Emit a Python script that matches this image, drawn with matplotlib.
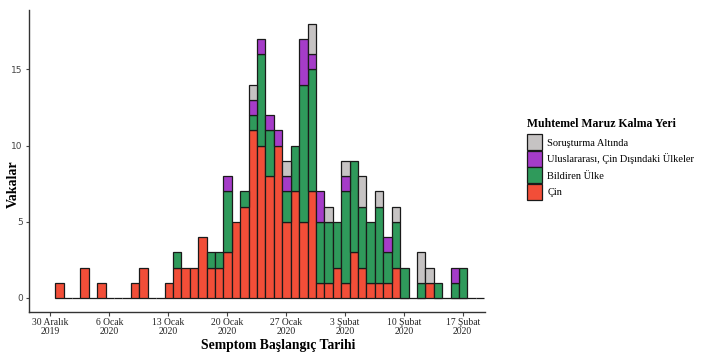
import numpy as np
import matplotlib
matplotlib.use("Agg")
import matplotlib.pyplot as plt
from matplotlib.patches import Patch

# Gün indeksi: 0 = 30 Aralık 2019
days = list(range(1, 52))

cin = [1, 0, 0, 2, 0, 1, 0, 0, 0, 1, 2, 0, 0, 1, 2, 2, 2, 4, 2, 2,
       3, 5, 6, 11, 10, 8, 10, 5, 7, 5, 7, 1, 1, 2, 1, 3, 2, 1, 1, 1,
       2, 0, 0, 0, 1, 0, 0, 0, 0, 0, 0]
bildiren = [0, 0, 0, 0, 0, 0, 0, 0, 0, 0, 0, 0, 0, 0, 1, 0, 0, 0, 1, 1,
            4, 0, 1, 1, 6, 3, 0, 2, 3, 9, 8, 4, 4, 3, 6, 6, 4, 4, 5, 2,
            3, 2, 0, 1, 0, 1, 0, 1, 2, 0, 0]
uluslararasi = [0, 0, 0, 0, 0, 0, 0, 0, 0, 0, 0, 0, 0, 0, 0, 0, 0, 0, 0, 0,
                1, 0, 0, 1, 1, 1, 1, 1, 0, 3, 1, 2, 0, 0, 1, 0, 0, 0, 0, 1,
                0, 0, 0, 0, 0, 0, 0, 1, 0, 0, 0]
sorusturma = [0, 0, 0, 0, 0, 0, 0, 0, 0, 0, 0, 0, 0, 0, 0, 0, 0, 0, 0, 0,
              0, 0, 0, 1, 0, 0, 0, 1, 0, 0, 2, 0, 1, 0, 1, 0, 2, 0, 1, 0,
              1, 0, 0, 2, 1, 0, 0, 0, 0, 0, 0]

tick_days = [0, 7, 14, 21, 28, 35, 42, 49]
tick_labels = ["30 Aralık\n2019", "6 Ocak\n2020", "13 Ocak\n2020", "20 Ocak\n2020",
               "27 Ocak\n2020", "3 Şubat\n2020", "10 Şubat\n2020", "17 Şubat\n2020"]

renkler = {"Çin": "#F24E38", "Bildiren Ülke": "#2F9A5B",
           "Uluslararası, Çin Dışındaki Ülkeler": "#A53CC8", "Soruşturma Altında": "#C6C3C3"}

W, H = 707, 353
fig = plt.figure(figsize=(7.07, 3.53), dpi=100)
ax = fig.add_axes([29 / W, 1 - 311.7 / H, (485 - 29) / W, (311.7 - 10) / H])

x = np.array(days) + 0.06
cin = np.array(cin)
bildiren = np.array(bildiren)
uluslararasi = np.array(uluslararasi)
sorusturma = np.array(sorusturma)

kw = dict(width=1.0, edgecolor="#1a1a1a", linewidth=0.9)
ax.bar(x, cin, color=renkler["Çin"], **kw)
alt = cin.copy()
for vals, ad in [(bildiren, "Bildiren Ülke"),
                 (uluslararasi, "Uluslararası, Çin Dışındaki Ülkeler"),
                 (sorusturma, "Soruşturma Altında")]:
    m = vals > 0
    ax.bar(x[m], vals[m], bottom=alt[m], color=renkler[ad], **kw)
    alt = alt + vals

ax.set_xlim(-2.55, 51.65)
ax.set_ylim(-0.9, 18.9)
ax.set_yticks([0, 5, 10, 15])
ax.set_xticks(tick_days)
ax.set_xticklabels(tick_labels, fontfamily="Liberation Serif", fontsize=6.9, color="#222222",
                   linespacing=1.05)
ax.tick_params(axis="y", labelsize=6.5, colors="#444444", length=2, pad=2.5)
ax.tick_params(axis="x", length=3, colors="#444444", pad=1.5)
for lbl in ax.get_xticklabels():
    lbl.set_color("#222222")
for s in ["top", "right"]:
    ax.spines[s].set_visible(False)
for s in ["left", "bottom"]:
    ax.spines[s].set_color("#333333")
    ax.spines[s].set_linewidth(1.0)

fig.text(13 / W, 1 - 184 / H, "Vakalar", rotation=90, ha="center", va="center",
         fontfamily="Liberation Serif", fontweight="bold", fontsize=10)
fig.text(278 / W, 1 - 346 / H, "Semptom Başlangıç Tarihi", ha="center", va="center",
         fontfamily="Liberation Serif", fontweight="bold", fontsize=9.8)

handles = [Patch(facecolor=renkler[k], edgecolor="#1a1a1a", linewidth=0.9, label=k)
           for k in ["Soruşturma Altında", "Uluslararası, Çin Dışındaki Ülkeler",
                     "Bildiren Ülke", "Çin"]]
leg = fig.legend(handles=handles, title="Muhtemel Maruz Kalma Yeri", loc="upper left",
                 bbox_to_anchor=(527 / W, 1 - 118 / H), frameon=False,
                 prop={"family": "Liberation Serif", "size": 7.5},
                 title_fontproperties={"family": "Liberation Serif", "weight": "bold", "size": 8.5},
                 handlelength=1.45, handleheight=2.0, handletextpad=0.5, labelspacing=0.05,
                 borderaxespad=0, borderpad=0)
leg._legend_box.align = "left"
leg._legend_box.sep = 3

fig.savefig("out.png", dpi=100)
